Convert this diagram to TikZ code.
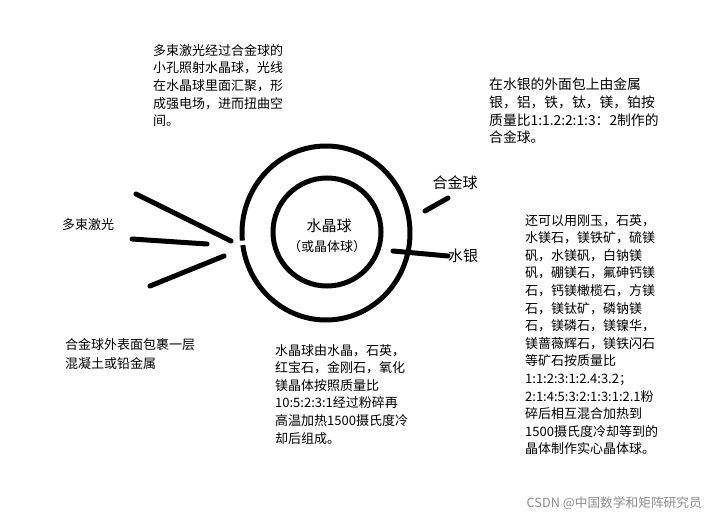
\documentclass[tikz,border=0pt]{standalone}
\usepackage{fontspec}
\setmainfont{Noto Sans CJK SC}
\usepackage{tikz}
\usetikzlibrary{positioning}
\tikzset{
	ring/.style={draw=black, line width=5pt},
	beam/.style={draw=black, line width=5pt, line cap=round},
	note/.style={anchor=north west, align=left, inner sep=0pt,
		font=\fontsize{13}{17.6}\selectfont},
	tag/.style={inner sep=0pt, font=\fontsize{15}{18}\selectfont},
	smalltag/.style={inner sep=0pt, font=\fontsize{13}{16}\selectfont},
	watermark/.style={inner sep=0pt, text=black!45, font=\fontsize{12.7}{14}\selectfont},
}

\begin{document}
\begin{tikzpicture}[x=1pt, y=-1pt]
	\useasboundingbox (0,0) rectangle (718,519);
	% sphere
	\coordinate (ball) at (327,232);
	\coordinate (shell) at (326,233);
	\draw[ring] (ball) circle (54);
	\draw[ring] (shell) ++(175:84 and 87) arc[start angle=175, end angle=532, x radius=84, y radius=87];
	\node[tag] (crystal) at (329,226) {水晶球};
	\node[smalltag] (crystalalt) at (327,247) {（或晶体球）};
	% laser beams
	\coordinate (b1s) at (136,194);
	\coordinate (b1e) at (231,241);
	\coordinate (b2s) at (132,239);
	\coordinate (b2e) at (207,244);
	\coordinate (b3s) at (150,286);
	\coordinate (b3e) at (224,256);
	\draw[beam] (b1s)--(b1e);
	\draw[beam] (b2s)--(b2e);
	\draw[beam] (b3s)--(b3e);
	\node[smalltag, anchor=west] (laser) at (62,225) {多束激光};
	% shell labels
	\coordinate (alloys) at (425,211);
	\coordinate (alloye) at (448,198);
	\coordinate (hgs) at (393,251);
	\coordinate (hge) at (448,256);
	\draw[beam] (alloys)--(alloye);
	\draw[beam] (hgs)--(hge);
	\node[tag] (alloy) at (455,183) {合金球};
	\node[tag, anchor=west] (mercury) at (448,256) {水银};
	% notes
	\node[note] (lasernote) at (153,44) {多束激光经过合金球的\\小孔照射水晶球，光线\\在水晶球里面汇聚，形\\成强电场，进而扭曲空\\间。};
	\node[note, font=\fontsize{13.8}{17.6}\selectfont] (alloynote) at (489,78) {在水银的外面包上由金属\\银，铝，铁，钛，镁，铂按\\质量比1:1.2:2:1:3：2制作的\\合金球。};
	\node[note] (orenote) at (525,214) {还可以用刚玉，石英，\\水镁石，镁铁矿，硫镁\\矾，水镁矾，白钠镁\\矾，硼镁石，氟砷钙镁\\石，钙镁橄榄石，方镁\\石，镁钛矿，磷钠镁\\石，镁磷石，镁镍华，\\镁蔷薇辉石，镁铁闪石\\等矿石按质量比\\1:1:2:3:1:2.4:3.2；\\2:1:4:5:3:2:1:3:1:2.1粉\\碎后相互混合加热到\\1500摄氏度冷却等到的\\晶体制作实心晶体球。};
	\node[note] (crystalnote) at (275,344) {水晶球由水晶，石英，\\红宝石，金刚石，氧化\\镁晶体按照质量比\\10:5:2:3:1经过粉碎再\\高温加热1500摄氏度冷\\却后组成。};
	\node[note] (coatnote) at (65,338) {合金球外表面包裹一层\\[1.5pt]混凝土或铅金属};
	\node[watermark, anchor=east] (credit) at (702,503) {CSDN @中国数学和矩阵研究员};
\end{tikzpicture}
\end{document}
